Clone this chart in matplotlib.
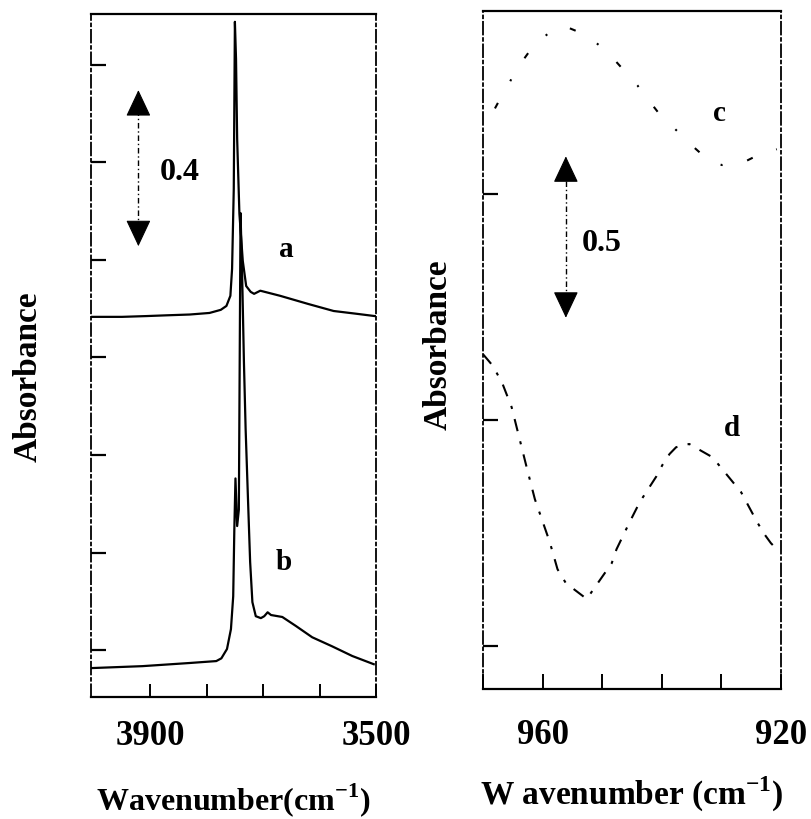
import matplotlib
matplotlib.use("Agg")
import matplotlib.pyplot as plt

plt.rcParams["font.family"] = ["Liberation Serif", "DejaVu Serif"]
plt.rcParams["font.weight"] = "bold"
plt.rcParams["mathtext.fontset"] = "custom"
plt.rcParams["mathtext.rm"] = "Liberation Serif:bold"
plt.rcParams["mathtext.bf"] = "Liberation Serif:bold"

# ---- O-H stretching region (left panel) ----
a_wn = [4005, 3950, 3907, 3870, 3830, 3795, 3775, 3765, 3758, 3755, 3752, 3750,
        3748, 3746, 3742, 3736, 3730, 3722, 3716, 3705, 3670, 3620, 3575, 3535, 3502]
a_abs = [0.854, 0.854, 0.856, 0.858, 0.860, 0.864, 0.872, 0.882, 0.908, 0.977, 1.182, 1.610,
         1.515, 1.310, 1.118, 0.997, 0.933, 0.918, 0.913, 0.921, 0.908, 0.887, 0.869, 0.862, 0.856]

b_wn = [4005, 3914, 3831, 3783, 3774, 3764, 3757, 3753, 3751, 3749, 3746, 3743, 3740,
        3737, 3734, 3731, 3727, 3723, 3719, 3713, 3704, 3698, 3692, 3686, 3666, 3642,
        3613, 3578, 3542, 3504]
b_abs = [-0.046, -0.041, -0.033, -0.028, -0.021, 0.003, 0.054, 0.138, 0.31, 0.44, 0.318,
         0.36, 1.12, 0.95, 0.738, 0.567, 0.395, 0.226, 0.123, 0.087, 0.082, 0.087, 0.097,
         0.090, 0.085, 0.062, 0.033, 0.010, -0.015, -0.036]

left_ticks = [3900, 3800, 3700, 3600, 3500]
left_ticklabels = ["3900", "", "", "", "3500"]
left_yticks = [0, 0.25, 0.5, 0.75, 1.0, 1.25, 1.5]

# ---- 900-1000 cm-1 region (right panel) ----
c_wn = [970.2, 968.8, 966.7, 965.5, 964.6, 961.6, 958.0, 956.8, 955.5, 952.6, 949.1, 947.9,
        944.1, 943.4, 940.4, 939.1, 935.4, 932.0, 929.9, 925.9, 923.2, 921.7, 920.7]
c_abs = [1.592, 1.638, 1.710, 1.747, 1.781, 1.858, 1.914, 1.917, 1.914, 1.892, 1.840, 1.815,
         1.737, 1.719, 1.648, 1.626, 1.558, 1.502, 1.490, 1.502, 1.527, 1.533, 1.539]

d_wn = [970.0, 968.3, 966.7, 965.2, 962.6, 961.3, 958.8, 957.5, 956.1, 952.6, 948.4, 947.6,
        945.4, 943.7, 940.9, 939.9, 938.7, 937.6, 935.4, 931.5, 926.7, 924.0, 922.8, 921.7, 920.7]
d_abs = [0.904, 0.867, 0.811, 0.740, 0.548, 0.455, 0.322, 0.238, 0.195, 0.146, 0.257, 0.300,
         0.384, 0.446, 0.526, 0.561, 0.595, 0.616, 0.626, 0.585, 0.477, 0.384, 0.347, 0.319, 0.300]

right_ticks = [970, 960, 950, 940, 930, 920]
right_ticklabels = ["", "960", "", "", "", "920"]
right_yticks = [0, 0.7, 1.4]

scale_left = 0.4
scale_right = 0.5

fig = plt.figure(figsize=(8.11, 8.20), dpi=100)
axL = fig.add_axes([0.1122, 0.1488, 0.3514, 0.8329])
axR = fig.add_axes([0.5956, 0.1585, 0.3674, 0.8268])

spine_dash = (0, (7, 2, 1.5, 2))

def style(ax):
    for side in ("left", "right"):
        ax.spines[side].set_linestyle(spine_dash)
        ax.spines[side].set_linewidth(1.3)
    for side in ("top", "bottom"):
        ax.spines[side].set_linewidth(1.6)
    ax.tick_params(axis="x", direction="in", length=9.5, width=1.4, top=False,
                   labelsize=25, pad=16)
    ax.tick_params(axis="y", direction="in", length=11, width=1.6, right=False,
                   labelleft=False)

def scale_bar(ax, x, y0, span, head):
    # dashed shaft between two solid filled heads
    ax.plot([x, x], [y0 + head * 0.8, y0 + span - head * 0.8], color="black", lw=1.0,
            linestyle=(0, (4, 2, 1, 2)))
    head_style = dict(arrowstyle="-|>,head_length=0.85,head_width=0.4",
                      color="black", lw=0.8, shrinkA=0, shrinkB=0, mutation_scale=20)
    ax.annotate("", xy=(x, y0), xytext=(x, y0 + head), arrowprops=head_style)
    ax.annotate("", xy=(x, y0 + span), xytext=(x, y0 + span - head), arrowprops=head_style)

# left panel
axL.plot(a_wn, a_abs, color="black", lw=1.6)
axL.plot(b_wn, b_abs, color="black", lw=1.6)
axL.set_xlim(4005, 3500)
axL.set_ylim(-0.12, 1.63)
axL.set_xticks(left_ticks, left_ticklabels)
axL.set_yticks(left_yticks)
style(axL)
axL.set_xlabel("Wavenumber(cm$^{-1}$)", fontsize=23, fontweight="bold", labelpad=20)
axL.set_ylabel("Absorbance", fontsize=24, fontweight="bold", va="center")
axL.yaxis.set_label_coords(-0.221, 0.47)

scale_bar(axL, 3921, 1.035, scale_left, 0.059)
axL.text(3847, 1.226, f"{scale_left}", fontsize=23, fontweight="bold",
         ha="center", va="center")
axL.text(3659, 1.028, "a", fontsize=21, fontweight="bold", ha="center", va="center")
axL.text(3663, 0.226, "b", fontsize=21, fontweight="bold", ha="center", va="center")

# right panel
axR.plot(c_wn, c_abs, color="black", lw=1.5, linestyle=(0, (1, 12, 3, 12)))
axR.plot(d_wn, d_abs, color="black", lw=1.5, linestyle=(0, (6, 5, 1.5, 5)))
axR.set_xlim(970, 920)
axR.set_ylim(-0.133, 1.967)
axR.set_xticks(right_ticks, right_ticklabels)
axR.set_yticks(right_yticks)
style(axR)
axR.tick_params(axis="x", length=11, pad=21)
axR.set_xlabel("W avenumber (cm$^{-1}$)", fontsize=24, fontweight="bold", labelpad=16)
axR.set_ylabel("Absorbance", fontsize=24, fontweight="bold", va="center")
axR.yaxis.set_label_coords(-0.151, 0.509)

scale_bar(axR, 956.1, 1.017, scale_right, 0.071)
axR.text(950.1, 1.251, f"{scale_right}", fontsize=23, fontweight="bold",
         ha="center", va="center")
axR.text(930.4, 1.654, "c", fontsize=21, fontweight="bold", ha="center", va="center")
axR.text(928.2, 0.678, "d", fontsize=21, fontweight="bold", ha="center", va="center")

fig.savefig("out.png", dpi=100)
